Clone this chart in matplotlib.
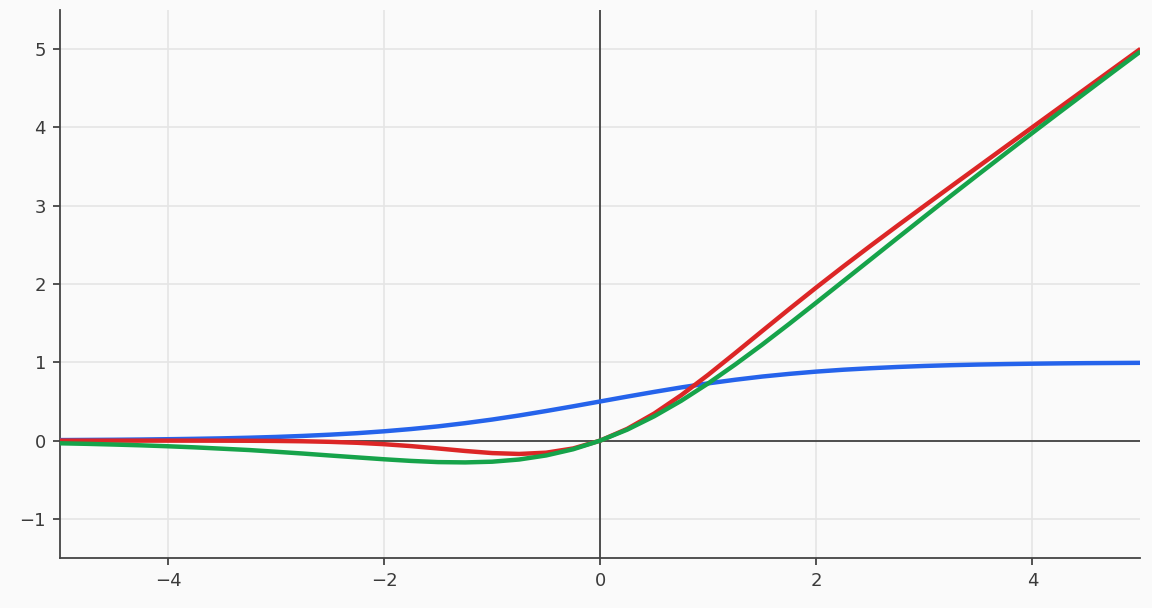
import matplotlib
matplotlib.use("Agg")
import matplotlib.pyplot as plt

x_vals = [-5.0, -4.75, -4.5, -4.25, -4.0, -3.75, -3.5, -3.25, -3.0, -2.75, -2.5, -2.25, -2.0,
          -1.75, -1.5, -1.25, -1.0, -0.75, -0.5, -0.25, 0.0, 0.25, 0.5, 0.75, 1.0, 1.25, 1.5,
          1.75, 2.0, 2.25, 2.5, 2.75, 3.0, 3.25, 3.5, 3.75, 4.0, 4.25, 4.5, 4.75, 5.0]

blue_vals = [0.007, 0.009, 0.011, 0.014, 0.018, 0.023, 0.029, 0.037, 0.047, 0.060, 0.076, 0.095, 0.119,
             0.148, 0.182, 0.223, 0.269, 0.321, 0.378, 0.438, 0.500, 0.562, 0.622, 0.679, 0.731, 0.777, 0.818,
             0.852, 0.881, 0.905, 0.924, 0.940, 0.953, 0.963, 0.971, 0.977, 0.982, 0.986, 0.989, 0.991, 0.993]

red_vals = [0.000, 0.000, 0.000, 0.000, -0.0001, -0.0003, -0.0008, -0.0019, -0.004, -0.0082, -0.0155, -0.0275, -0.0455,
            -0.070, -0.100, -0.132, -0.159, -0.170, -0.154, -0.100, 0.000, 0.150, 0.346, 0.580, 0.841, 1.118, 1.400,
            1.680, 1.955, 2.223, 2.485, 2.742, 2.996, 3.248, 3.499, 3.750, 4.000, 4.250, 4.500, 4.750, 5.000]

green_vals = [-0.034, -0.041, -0.050, -0.060, -0.072, -0.086, -0.103, -0.120, -0.142, -0.165, -0.190, -0.214, -0.238,
              -0.259, -0.274, -0.278, -0.269, -0.241, -0.189, -0.110, 0.000, 0.140, 0.311, 0.509, 0.731, 0.972, 1.226,
              1.491, 1.762, 2.036, 2.310, 2.585, 2.858, 3.130, 3.398, 3.664, 3.928, 4.190, 4.450, 4.710, 4.967]

x_ticks = [-4, -2, 0, 2, 4]
y_ticks = [-1, 0, 1, 2, 3, 4, 5]

plt.rcParams['font.family'] = ['DejaVu Sans']

bg = "#fafafa"
fig = plt.figure(figsize=(11.52, 6.08), dpi=100, facecolor=bg)
ax = fig.add_axes([0.052, 0.082, 0.938, 0.902])
ax.set_facecolor(bg)

ax.axhline(0, color="#333333", lw=1.2, zorder=1)
ax.axvline(0, color="#333333", lw=1.2, zorder=1)

ax.plot(x_vals, blue_vals, color="#2563eb", lw=3.2, zorder=3, solid_capstyle="butt")
ax.plot(x_vals, red_vals, color="#dc2626", lw=3.2, zorder=4, solid_capstyle="butt")
ax.plot(x_vals, green_vals, color="#16a34a", lw=3.2, zorder=5, solid_capstyle="butt")

ax.set_xlim(-5, 5)
ax.set_ylim(-1.5, 5.5)
ax.set_xticks(x_ticks)
ax.set_yticks(y_ticks)
ax.set_xticklabels(["\u2212" + str(-t) if t < 0 else str(t) for t in x_ticks])
ax.set_yticklabels(["\u2212" + str(-t) if t < 0 else str(t) for t in y_ticks])
ax.grid(True, color="#e5e5e5", lw=1.2, zorder=0)
ax.set_axisbelow(True)

for s in ["top", "right"]:
    ax.spines[s].set_visible(False)
for s in ["left", "bottom"]:
    ax.spines[s].set_color("#444444")
    ax.spines[s].set_linewidth(1.3)
ax.tick_params(colors="#444444", labelsize=13, length=5, width=1.3, labelcolor="#3a3a3a", pad=5)

fig.savefig("out.png", dpi=100, facecolor=bg)
